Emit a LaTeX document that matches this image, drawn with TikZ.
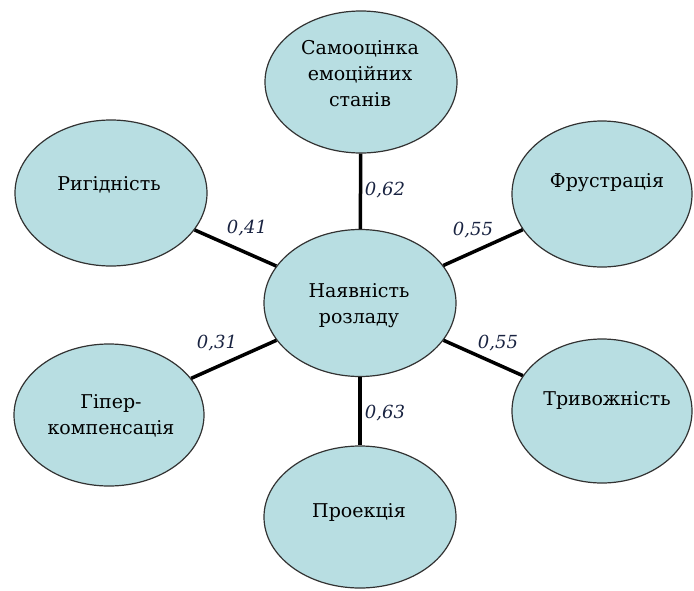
\documentclass[tikz,border=0pt]{standalone}
\usepackage{fontspec}
\setmainfont{DejaVu Serif}
\usetikzlibrary{shapes.geometric}
\definecolor{blobfill}{RGB}{184,222,226}
\definecolor{blobline}{RGB}{50,50,50}
\definecolor{numcol}{RGB}{25,35,65}
\tikzset{
  blob/.style={ellipse, draw=blobline, line width=1.2pt, fill=blobfill, inner sep=0pt},
  txt/.style={inner sep=0pt, align=center, font=\rmfamily\fontsize{19}{26}\selectfont},
  num/.style={inner sep=0pt, text=numcol, font=\rmfamily\fontsize{18}{24}\selectfont\itshape},
  conn/.style={line width=3.5pt, black}
}
\begin{document}
\begin{tikzpicture}[x=1pt, y=-1pt]
\useasboundingbox (0,0) rectangle (694,590);
\node[blob, minimum width=192pt, minimum height=142pt] (top) at (361,82) {};
\node[blob, minimum width=192pt, minimum height=146pt] (rig) at (111,193) {};
\node[blob, minimum width=180pt, minimum height=146pt] (fru) at (602,194) {};
\node[blob, minimum width=192pt, minimum height=147pt] (cen) at (360,303) {};
\node[blob, minimum width=190pt, minimum height=142pt] (hyp) at (109,415) {};
\node[blob, minimum width=180pt, minimum height=144pt] (tri) at (602,411) {};
\node[blob, minimum width=192pt, minimum height=142pt] (pro) at (360,517) {};

\draw[conn] (cen) -- (top);
\draw[conn] (cen) -- (rig);
\draw[conn] (cen) -- (fru);
\draw[conn] (cen) -- (hyp);
\draw[conn] (cen) -- (tri);
\draw[conn] (cen) -- (pro);

\node[txt] (topT) at (360,74) {Самооцінка\\емоційних\\станів};
\node[txt] (rigT) at (109,185) {Ригідність};
\node[txt] (fruT) at (607,183) {Фрустрація};
\node[txt] (cenT) at (359,306) {Наявність\\розладу};
\node[txt] (hypT) at (111,416) {Гіпер-\\компенсація};
\node[txt] (triT) at (607,400) {Тривожність};
\node[txt] (proT) at (359,512) {Проекція};

\node[num] (n1) at (385,190) {0,62};
\node[num] (n2) at (247,228) {0,41};
\node[num] (n3) at (473,230) {0,55};
\node[num] (n4) at (217,343) {0,31};
\node[num] (n5) at (498,343) {0,55};
\node[num] (n6) at (385,413) {0,63};
\end{tikzpicture}
\end{document}
